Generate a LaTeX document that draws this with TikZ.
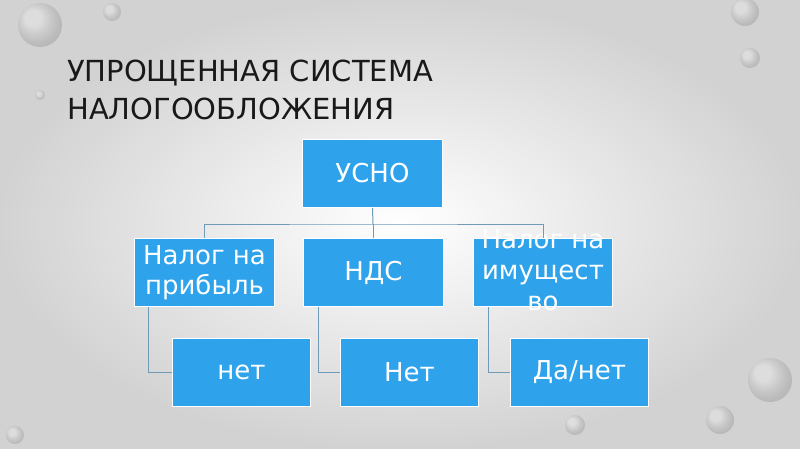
\documentclass[tikz,border=0pt]{standalone}
\usepackage{fontspec}
\setmainfont{DejaVu Sans}
\usetikzlibrary{shadings}
\definecolor{boxc}{HTML}{2EA3EC}
\definecolor{linec}{HTML}{6F9AB8}
\begin{document}
\begin{tikzpicture}[x=1pt,y=-1pt,
  box/.style={draw=white,line width=1pt,fill=boxc,minimum width=140pt,minimum height=68pt,text=white,font=\fontsize{26}{30}\selectfont,align=center,anchor=north west,inner sep=0pt},
  conn/.style={draw=linec,line width=1pt}]
\useasboundingbox (0,0) rectangle (800,449);
\shade[inner color=white,outer color=gray!35] (0,0) rectangle (800,449);
\foreach \x/\y/\r in {40/25/22,112/12/9,745/12/14,750/58/10,40/95/5,770/380/22,720/420/14,575/425/10,15/435/9}
  \shade[ball color=white,opacity=0.25] (\x,\y) circle (\r);
\node[anchor=north west,align=left,font=\fontsize{29}{38}\selectfont,text=black!90,inner sep=0pt] (title) at (67,60) {УПРОЩЕННАЯ СИСТЕМА\\НАЛОГООБЛОЖЕНИЯ};
\node[box] (u) at (302,139) {УСНО};
\node[box] (a) at (134,238) {Налог на\\прибыль};
\node[box] (b) at (303,238) {НДС};
\node[box,minimum width=139pt] (c) at (473,238) {};
\node[text=white,font=\fontsize{26}{31}\selectfont,align=center,anchor=north] (ct) at (543,226) {Налог на\\имущест\\во};
\node[box,minimum width=138pt] (a2) at (172,338) {нет};
\node[box,minimum width=138pt] (b2) at (340,338) {Нет};
\node[box,minimum width=138pt] (c2) at (510,338) {Да/нет};
\coordinate (j) at (373,224);
\draw[conn] (u.south) -- (j);
\draw[conn] (a.north) |- (j) -| (c.north);
\draw[conn] (j) -| (b.north);
\draw[conn] ([xshift=14pt]a.south west) |- (a2.west);
\draw[conn] ([xshift=15pt]b.south west) |- (b2.west);
\draw[conn] ([xshift=15pt]c.south west) |- (c2.west);
\end{tikzpicture}
\end{document}
